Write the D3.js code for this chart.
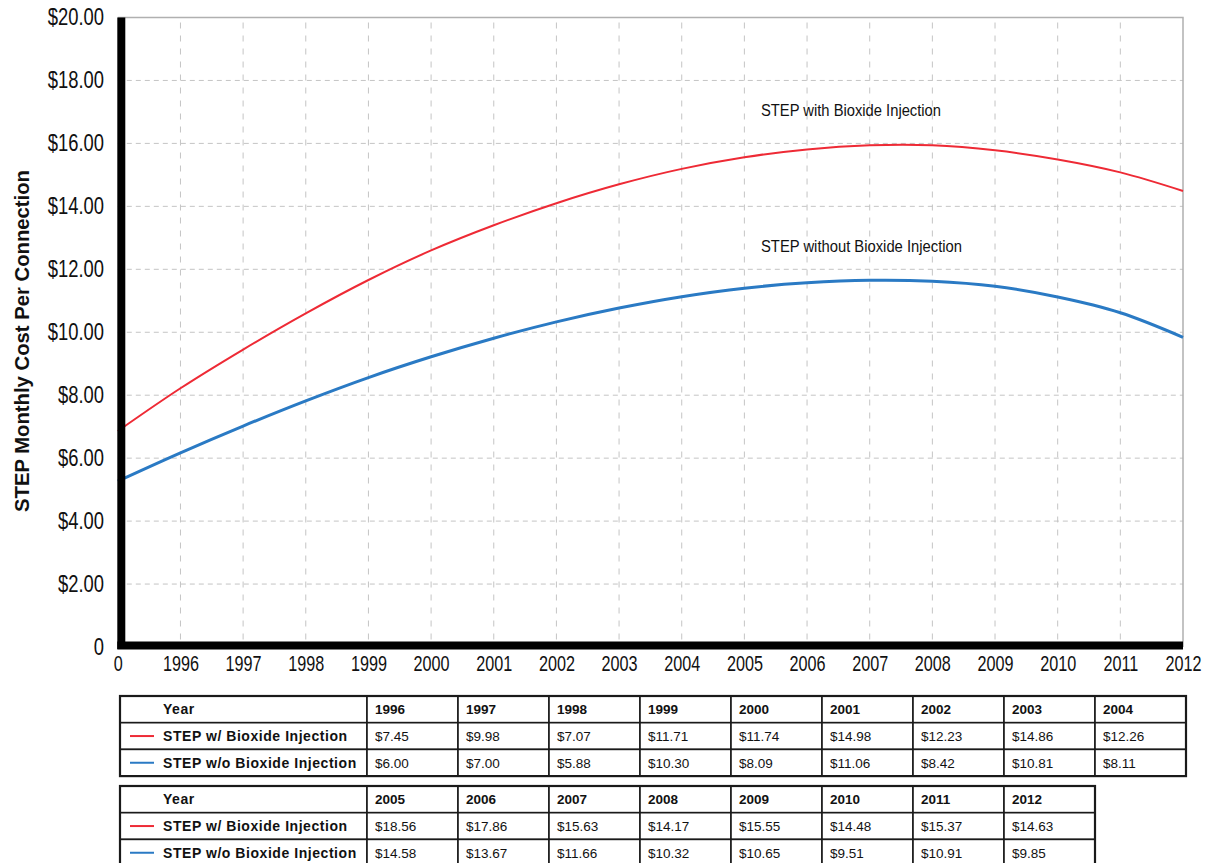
<!DOCTYPE html>
<html>
<head>
<meta charset="utf-8">
<script src="https://cdn.jsdelivr.net/npm/d3@7"></script>
<style>
  html, body { margin: 0; padding: 0; background: #fff; }
  svg { display: block; }
  .narrow { font-family: "Liberation Sans", Arial, Helvetica, sans-serif; }
  .tbl { font-family: "Liberation Sans", Arial, Helvetica, sans-serif; }
</style>
</head>
<body>
<svg id="chart" width="1207" height="863"></svg>
<script>
// Smoothed trend of monthly cost per connection (1995 = axis origin)
const trendYears = [1995, 1996, 1997, 1998, 1999, 2000, 2001, 2002, 2003, 2004, 2005, 2006, 2007, 2008, 2009, 2010, 2011, 2012];
const trendWith = [6.86, 8.22, 9.45, 10.60, 11.66, 12.60, 13.40, 14.10, 14.70, 15.19, 15.56, 15.81, 15.94, 15.94, 15.78, 15.49, 15.08, 14.49];
const trendWithout = [5.27, 6.17, 7.02, 7.82, 8.56, 9.22, 9.81, 10.33, 10.77, 11.13, 11.40, 11.57, 11.65, 11.62, 11.46, 11.12, 10.62, 9.84];

// Yearly figures listed in the table under the chart
const tableYears = [1996, 1997, 1998, 1999, 2000, 2001, 2002, 2003, 2004, 2005, 2006, 2007, 2008, 2009, 2010, 2011, 2012];
const withInjection = [7.45, 9.98, 7.07, 11.71, 11.74, 14.98, 12.23, 14.86, 12.26, 18.56, 17.86, 15.63, 14.17, 15.55, 14.48, 15.37, 14.63];
const withoutInjection = [6.00, 7.00, 5.88, 10.30, 8.09, 11.06, 8.42, 10.81, 8.11, 14.58, 13.67, 11.66, 10.32, 10.65, 9.51, 10.91, 9.85];

const xTicks = [1995, 1996, 1997, 1998, 1999, 2000, 2001, 2002, 2003, 2004, 2005, 2006, 2007, 2008, 2009, 2010, 2011, 2012];
const yTicks = [0, 2, 4, 6, 8, 10, 12, 14, 16, 18, 20];

const seriesNames = ["STEP w/ Bioxide Injection", "STEP w/o Bioxide Injection"];
const curveLabels = ["STEP with Bioxide Injection", "STEP without Bioxide Injection"];
const RED = "#ee2a35";
const BLUE = "#2a7ac4";

const svg = d3.select("#chart");

const x = d3.scaleLinear().domain([1995, 2012]).range([117.8, 1183]);
const y = d3.scaleLinear().domain([0, 20]).range([647, 17.5]);

// grid
const grid = svg.append("g");
grid.selectAll("line.h").data(yTicks.filter(v => v > 0 && v < 20)).join("line")
  .attr("x1", x(1995)).attr("x2", x(2012))
  .attr("y1", d => y(d)).attr("y2", d => y(d))
  .attr("stroke", "#c4c4c4").attr("stroke-width", 1).attr("stroke-dasharray", "5,4");
grid.selectAll("line.v").data(xTicks.filter(v => v > 1995 && v < 2012)).join("line")
  .attr("x1", d => x(d)).attr("x2", d => x(d))
  .attr("y1", y(20) + 5).attr("y2", y(0))
  .attr("stroke", "#c4c4c4").attr("stroke-width", 1).attr("stroke-dasharray", "6,7");

// plot frame (top and right)
svg.append("path")
  .attr("d", `M${x(1995)},${y(20)} H${x(2012)} V${y(0)}`)
  .attr("fill", "none").attr("stroke", "#b0b0b0").attr("stroke-width", 1.5);

// trend curves
const line = d3.line().x(d => x(d[0])).y(d => y(d[1])).curve(d3.curveCatmullRom.alpha(0.5));
svg.append("path").datum(trendYears.map((t, i) => [t, trendWith[i]]))
  .attr("d", line).attr("fill", "none").attr("stroke", RED).attr("stroke-width", 2);
svg.append("path").datum(trendYears.map((t, i) => [t, trendWithout[i]]))
  .attr("d", line).attr("fill", "none").attr("stroke", BLUE).attr("stroke-width", 3);

// heavy axis lines
svg.append("line").attr("x1", x(1995) + 3.5).attr("x2", x(1995) + 3.5)
  .attr("y1", y(20)).attr("y2", y(0) + 2)
  .attr("stroke", "#000").attr("stroke-width", 8);
svg.append("line").attr("x1", x(1995) - 0.5).attr("x2", x(2012))
  .attr("y1", y(0) - 1.5).attr("y2", y(0) - 1.5)
  .attr("stroke", "#000").attr("stroke-width", 8);

// y axis labels (horizontally squeezed for a condensed look)
const yAxis = d3.axisLeft(y).tickValues(yTicks).tickSize(0).tickPadding(0)
  .tickFormat(d => d === 0 ? "0" : "$" + d.toFixed(2));
const yg = svg.append("g").attr("transform", `translate(104,0)`).call(yAxis);
yg.select(".domain").remove();
yg.selectAll("text").attr("class", "narrow").attr("font-size", 23).attr("fill", "#111")
  .attr("font-family", null).attr("transform", "scale(0.8,1)");

// x axis labels
const xAxis = d3.axisBottom(x).tickValues(xTicks).tickSize(0).tickPadding(0)
  .tickFormat(d => d === 1995 ? "0" : String(d));
const xg = svg.append("g").attr("transform", `translate(0,${y(0) + 8})`).call(xAxis);
xg.select(".domain").remove();
xg.selectAll("text").attr("class", "narrow").attr("font-size", 22.5).attr("fill", "#111")
  .attr("font-family", null).attr("dy", "0.72em").attr("transform", "scale(0.72,1)");

// y axis title
svg.append("text").attr("class", "narrow")
  .attr("transform", "translate(29,341) rotate(-90)")
  .attr("text-anchor", "middle").attr("font-weight", "bold").attr("font-size", 20)
  .attr("textLength", 342).attr("lengthAdjust", "spacingAndGlyphs")
  .attr("fill", "#111").text("STEP Monthly Cost Per Connection");

// curve labels
svg.append("text").attr("class", "narrow").attr("x", 761).attr("y", 116)
  .attr("font-size", 16).attr("fill", "#111")
  .attr("textLength", 180).attr("lengthAdjust", "spacingAndGlyphs")
  .text(curveLabels[0]);
svg.append("text").attr("class", "narrow").attr("x", 761).attr("y", 252)
  .attr("font-size", 16).attr("fill", "#111")
  .attr("textLength", 201).attr("lengthAdjust", "spacingAndGlyphs")
  .text(curveLabels[1]);

// data tables
const tableLeft = 120, labelW = 247, cellW = 91, rowH = 26.7;
const fmt = v => "$" + v.toFixed(2);
function drawTable(top, from, to) {
  const g = svg.append("g").attr("class", "tbl");
  const n = to - from;
  const w = labelW + n * cellW;
  const rows = [
    { label: "Year", color: null, vals: tableYears.slice(from, to).map(String), bold: true },
    { label: seriesNames[0], color: RED, vals: withInjection.slice(from, to).map(fmt), bold: false },
    { label: seriesNames[1], color: BLUE, vals: withoutInjection.slice(from, to).map(fmt), bold: false }
  ];
  rows.forEach((r, i) => {
    const ry = top + i * rowH;
    g.append("rect").attr("x", tableLeft).attr("y", ry).attr("width", labelW).attr("height", rowH)
      .attr("fill", "#fff").attr("stroke", "#1a1a1a").attr("stroke-width", 1.6);
    if (r.color) {
      g.append("line").attr("x1", tableLeft + 10).attr("x2", tableLeft + 34)
        .attr("y1", ry + rowH / 2).attr("y2", ry + rowH / 2)
        .attr("stroke", r.color).attr("stroke-width", 2);
    }
    g.append("text").attr("x", tableLeft + 43).attr("y", ry + rowH / 2).attr("dy", "0.36em")
      .attr("font-size", 14).attr("font-weight", "bold").attr("fill", "#111")
      .attr("letter-spacing", 0.55).text(r.label);
    r.vals.forEach((v, j) => {
      const cx = tableLeft + labelW + j * cellW;
      g.append("rect").attr("x", cx).attr("y", ry).attr("width", cellW).attr("height", rowH)
        .attr("fill", "#fff").attr("stroke", "#1a1a1a").attr("stroke-width", 1.6);
      g.append("text").attr("x", cx + 8).attr("y", ry + rowH / 2).attr("dy", "0.36em")
        .attr("font-size", 13.5).attr("font-weight", r.bold ? "bold" : "normal").attr("fill", "#111")
        .text(v);
    });
  });
  g.append("rect").attr("x", tableLeft).attr("y", top).attr("width", w).attr("height", rowH * 3)
    .attr("fill", "none").attr("stroke", "#1a1a1a").attr("stroke-width", 2.2);
}
drawTable(696, 0, 9);
drawTable(786, 9, 17);
</script>
</body>
</html>
